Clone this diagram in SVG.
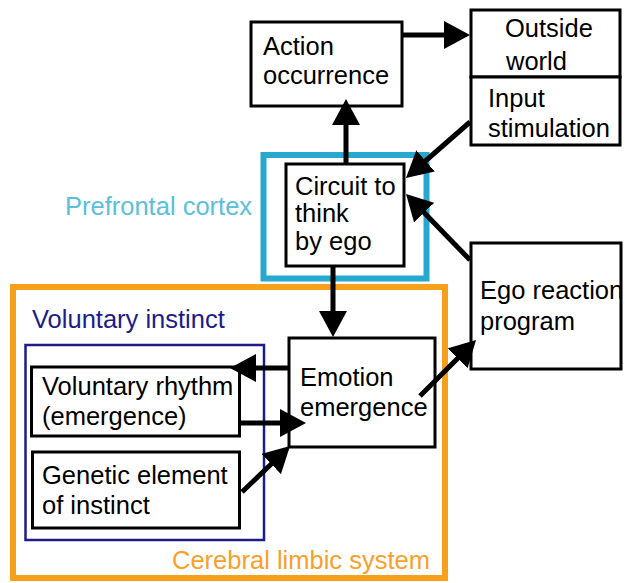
<svg xmlns="http://www.w3.org/2000/svg" width="625" height="583" viewBox="0 0 625 583">
<defs>
<marker id="ah" markerUnits="userSpaceOnUse" markerWidth="26" markerHeight="28" viewBox="0 0 26 28" refX="20" refY="14" orient="auto">
<path d="M0,0 L26,14 L0,28 z" fill="#000"/>
</marker>
<style>
.box{fill:#fff;stroke:#000;stroke-width:3}
.t{font-family:"Liberation Sans",Arial,sans-serif;font-size:25.5px;fill:#000}
.c{stroke:#000;stroke-width:5;fill:none;marker-end:url(#ah)}
</style>
</defs>
<rect width="625" height="583" fill="#fff"/>
<g id="cerebral-limbic-system">
<rect x="13" y="287" width="432" height="291" fill="none" stroke="#f7a01c" stroke-width="6"/>
<text class="t" x="172" y="569" style="fill:#f9a02a">Cerebral limbic system</text>
</g>
<g id="prefrontal-cortex">
<rect x="263.5" y="155" width="163" height="123.5" fill="none" stroke="#27a9cf" stroke-width="6"/>
<text class="t" x="65" y="215" style="fill:#5bbfdc">Prefrontal cortex</text>
</g>
<g id="voluntary-instinct">
<rect x="25.5" y="345" width="238.5" height="195" fill="none" stroke="#1c1c8a" stroke-width="2.5"/>
<text class="t" x="32" y="328" style="fill:#1c1c8a">Voluntary instinct</text>
</g>
<g id="action-occurrence">
<rect class="box" x="251" y="22" width="151" height="84"/>
<text class="t" x="263" y="55">Action</text>
<text class="t" x="263" y="84">occurrence</text>
</g>
<g id="outside-world">
<rect class="box" x="471" y="10" width="149" height="67"/>
<text class="t" x="505" y="37">Outside</text>
<text class="t" x="506" y="70">world</text>
</g>
<g id="input-stimulation">
<rect class="box" x="471" y="77" width="149" height="68"/>
<text class="t" x="488" y="107">Input</text>
<text class="t" x="488" y="137">stimulation</text>
</g>
<g id="circuit">
<rect class="box" x="286" y="164" width="118" height="102"/>
<text class="t" x="295" y="195">Circuit to</text>
<text class="t" x="295" y="222">think</text>
<text class="t" x="295" y="250">by ego</text>
</g>
<g id="ego-reaction-program">
<rect class="box" x="471" y="243" width="150" height="126"/>
<text class="t" x="480" y="299">Ego reaction</text>
<text class="t" x="480" y="330">program</text>
</g>
<g id="emotion-emergence">
<rect class="box" x="289" y="338" width="146" height="109"/>
<text class="t" x="300" y="386">Emotion</text>
<text class="t" x="300" y="416">emergence</text>
</g>
<g id="voluntary-rhythm">
<rect class="box" x="31.5" y="367" width="208" height="69"/>
<text class="t" x="42" y="395">Voluntary rhythm</text>
<text class="t" x="42" y="425">(emergence)</text>
</g>
<g id="genetic-element">
<rect class="box" x="32.5" y="452" width="207" height="76"/>
<text class="t" x="42" y="484">Genetic element</text>
<text class="t" x="42" y="514">of instinct</text>
</g>
<g id="connectors">
<line class="c" x1="346" y1="164" x2="346" y2="105"/>
<line class="c" x1="402" y1="35" x2="464" y2="35"/>
<line class="c" x1="470" y1="122" x2="410.5" y2="174"/>
<line class="c" x1="470" y1="260" x2="410.2" y2="198.3"/>
<line class="c" x1="333" y1="266" x2="333" y2="331"/>
<line class="c" x1="290" y1="368" x2="236" y2="368"/>
<line class="c" x1="240" y1="423" x2="300" y2="423"/>
<line class="c" x1="242" y1="492" x2="285.7" y2="450.2"/>
<line class="c" x1="420" y1="396" x2="471.8" y2="344.2"/>
</g>
</svg>
